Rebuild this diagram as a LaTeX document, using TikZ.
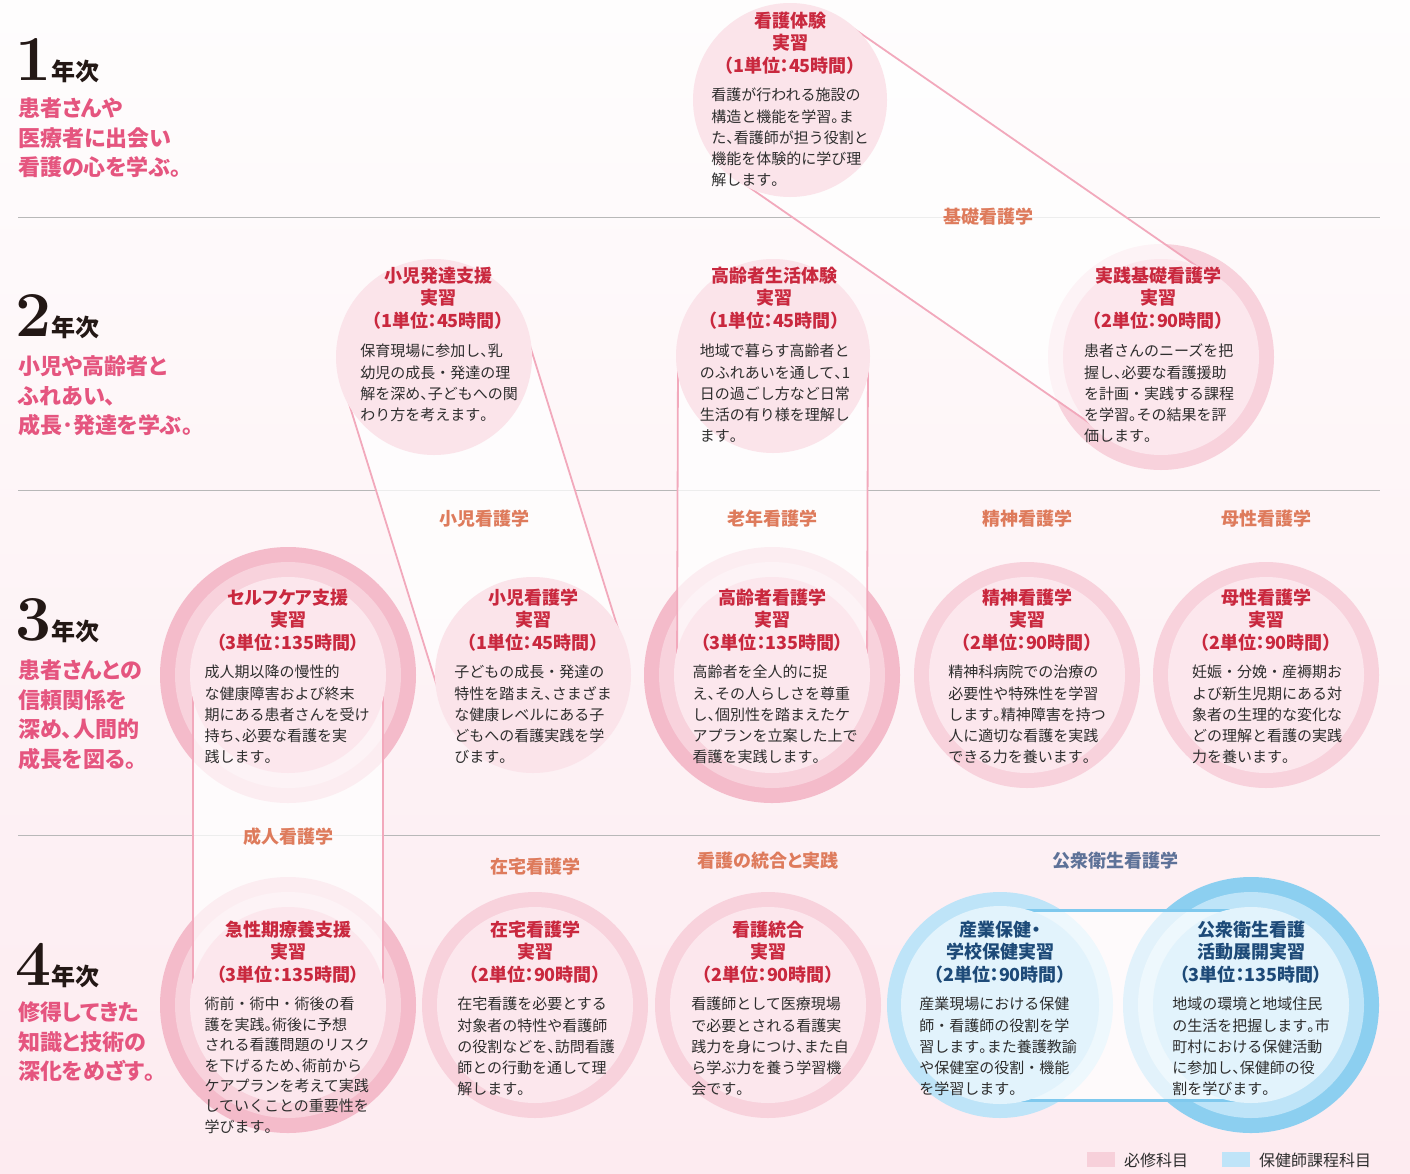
\documentclass[tikz,border=0pt]{standalone}
\usepackage{fontspec}
\usetikzlibrary{calc}
\newfontfamily\jp{Noto Sans CJK JP}
\newfontfamily\jpt[RawFeature=+palt]{Noto Sans CJK JP}
\definecolor{bgtop}{HTML}{FEFDFD}
\definecolor{bgmid}{HTML}{FDF3F5}
\definecolor{bgbot}{HTML}{FDEBF0}
\definecolor{sepgray}{HTML}{B8B8B8}
\definecolor{pkA}{HTML}{F4BBCA}
\definecolor{pkB}{HTML}{F8D2DC}
\definecolor{pkC}{HTML}{FCE7ED}
\definecolor{pkS}{HTML}{FBE4EA}
\definecolor{blA}{HTML}{8CCFF0}
\definecolor{blB}{HTML}{BEE4F8}
\definecolor{blC}{HTML}{E2F3FC}
\definecolor{bandpink}{HTML}{F2A9BC}
\definecolor{bandblue}{HTML}{7FC9EE}
\definecolor{ttlred}{HTML}{C9283E}
\definecolor{ttlblue}{HTML}{1D4A78}
\definecolor{bodytxt}{HTML}{2E2E2E}
\definecolor{subjor}{HTML}{DE7B5C}
\definecolor{subjbl}{HTML}{5E7298}
\definecolor{headpink}{HTML}{E5557F}
\definecolor{yrblack}{HTML}{231815}
\definecolor{legpink}{HTML}{F7D0DA}
\definecolor{legblue}{HTML}{BFE4F8}
\pgfdeclarelayer{back}
\pgfdeclarelayer{bandl}
\pgfsetlayers{back,bandl,main}
\begingroup
\catcode`、=\active
\catcode`。=\active
\gdef、{\makebox[.5em][l]{\char"3001}}
\gdef。{\makebox[.5em][l]{\char"3002}}
\endgroup
\catcode`、=\active
\catcode`。=\active
\newcommand\disc[4]{\node[circle,inner sep=0pt,outer sep=0pt,minimum size=#3pt,fill=#4] (#1) at (#2) {};}
\newcommand\band[3]{%
  \fill[white,fill opacity=.75] ($(#1)!95pt!90:(#2)$) -- ($(#2)!95pt!-90:(#1)$) -- ($(#2)!95pt!90:(#1)$) -- ($(#1)!95pt!-90:(#2)$) -- cycle;
  \draw[#3] ($(#1)!95pt!90:(#2)$) -- ($(#2)!95pt!-90:(#1)$);
  \draw[#3] ($(#1)!95pt!-90:(#2)$) -- ($(#2)!95pt!90:(#1)$);}
\tikzset{
  ttl/.style={anchor=north,inner sep=0pt,align=center,text=ttlred,font=\jpt\bfseries\fontsize{18}{22.5}\selectfont},
  ttlb/.style={ttl,text=ttlblue},
  bod/.style={anchor=north,inner sep=0pt,align=left,text=bodytxt,font=\jp\fontsize{15}{21.2}\selectfont},
  subj/.style={inner sep=0pt,text=subjor,font=\jpt\bfseries\fontsize{18}{18}\selectfont},
  head/.style={anchor=north west,inner sep=0pt,align=left,text=headpink,font=\jpt\bfseries\fontsize{22}{29.7}\selectfont},
  yr/.style={anchor=base west,inner sep=0pt,text=yrblack,font=\bfseries\fontsize{64}{64}\selectfont},
  nen/.style={anchor=base west,inner sep=0pt,text=yrblack,font=\jp\bfseries\fontsize{24}{24}\selectfont},
  pband/.style={draw=bandpink,line width=1.8pt},
  bband/.style={draw=bandblue,line width=3pt},
  sepline/.style={draw=sepgray,line width=1pt},
  legbox/.style={inner sep=0pt,minimum width=28pt,minimum height=15pt},
  legtxt/.style={anchor=west,inner sep=0pt,text=bodytxt,font=\jp\fontsize{16}{16}\selectfont},
}
\begin{document}
\begin{tikzpicture}[x=1pt,y=-1pt]
\useasboundingbox (0,0) rectangle (1410,1173);
\begin{pgfonlayer}{back}
  \shade[top color=bgtop,middle color=bgmid,bottom color=bgbot] (0,0) rectangle (1410,1173);
  \draw[sepline] (18,217) -- (1380,217);
  \draw[sepline] (18,490) -- (1380,490);
  \draw[sepline] (18,835) -- (1380,835);
  % outer rings
  \disc{c4o}{1161,357}{226}{pkB}
  \disc{c5o}{288,675}{256}{pkA}
  \disc{c5m}{288,675}{226}{pkB}
  \disc{c7o}{772,675}{256}{pkA}
  \disc{c7m}{772,675}{226}{pkB}
  \disc{c8o}{1027,675}{226}{pkB}
  \disc{c9o}{1266,675}{226}{pkB}
  \disc{c10o}{288,1005}{256}{pkA}
  \disc{c10m}{288,1005}{226}{pkB}
  \disc{c11o}{535,1005}{226}{pkB}
  \disc{c12o}{768,1005}{226}{pkB}
  \disc{c13o}{1000,1005}{226}{blB}
  \disc{c14o}{1251,1005}{256}{blA}
  \disc{c14m}{1251,1005}{226}{blB}
\end{pgfonlayer}
% inner discs
\disc{c1}{790,100}{194}{pkS}
\disc{c2}{434,357}{196}{pkS}
\disc{c3}{773,356}{194}{pkS}
\disc{c4}{1161,357}{196}{pkC}
\disc{c5}{288,675}{196}{pkC}
\disc{c6}{533,675}{196}{pkS}
\disc{c7}{772,675}{196}{pkC}
\disc{c8}{1027,675}{196}{pkC}
\disc{c9}{1266,675}{196}{pkC}
\disc{c10}{288,1005}{196}{pkC}
\disc{c11}{535,1005}{196}{pkC}
\disc{c12}{768,1005}{196}{pkC}
\disc{c13}{1000,1005}{198}{blC}
\disc{c14}{1251,1005}{196}{blC}
\begin{pgfonlayer}{bandl}
  \band{c1}{c4}{pband}
  \band{c2}{c6}{pband}
  \band{c3}{c7}{pband}
  \band{c5}{c10}{pband}
  \band{c13}{c14}{bband}
\end{pgfonlayer}
% year headings
\node[yr] (n1) at (15,80) {1};
\node[nen] (y1) at (51,80) {年次};
\node[head] (h1) at (18,97.5) {患者さんや\\医療者に出会い\\看護の心を学ぶ。};
\node[yr] (n2) at (15,336) {2};
\node[nen] (y2) at (51,336) {年次};
\node[head] (h2) at (18,355.5) {小児や高齢者と\\ふれあい、\\成長･発達を学ぶ。};
\node[yr] (n3) at (15,640) {3};
\node[nen] (y3) at (51,640) {年次};
\node[head] (h3) at (18,659.5) {患者さんとの\\信頼関係を\\深め、人間的\\成長を図る。};
\node[yr] (n4) at (15,985) {4};
\node[nen] (y4) at (51,985) {年次};
\node[head] (h4) at (18,1001.5) {修得してきた\\知識と技術の\\深化をめざす。};
% subject labels
\node[subj] (s1) at (988,217) {基礎看護学};
\node[subj] (s2) at (484,519) {小児看護学};
\node[subj] (s3) at (772,519) {老年看護学};
\node[subj] (s4) at (1027,519) {精神看護学};
\node[subj] (s5) at (1266,519) {母性看護学};
\node[subj] (s6) at (288,837) {成人看護学};
\node[subj] (s7) at (535,867) {在宅看護学};
\node[subj] (s8) at (768,861) {看護の統合と実践};
\node[subj,text=subjbl] (s9) at (1115,861) {公衆衛生看護学};
% circle texts
\node[ttl] (t1) at (790,11.5) {看護体験\\実習\\（1単位：45時間）};
\node[bod] (b1) at (790,88) {看護が行われる施設の\\構造と機能を学習。ま\\た、看護師が担う役割と\\機能を体験的に学び理\\解します。};
\node[ttl] (t2) at (438,266.5) {小児発達支援\\実習\\（1単位：45時間）};
\node[bod] (b2) at (439,344) {保育現場に参加し、乳\\幼児の成長・発達の理\\解を深め、子どもへの関\\わり方を考えます。};
\node[ttl] (t3) at (774,266.5) {高齢者生活体験\\実習\\（1単位：45時間）};
\node[bod] (b3) at (775,344) {地域で暮らす高齢者と\\のふれあいを通して、1\\日の過ごし方など日常\\生活の有り様を理解し\\ます。};
\node[ttl] (t4) at (1158,266.5) {実践基礎看護学\\実習\\（2単位：90時間）};
\node[bod] (b4) at (1159,344) {患者さんのニーズを把\\握し、必要な看護援助\\を計画・実践する課程\\を学習。その結果を評\\価します。};
\node[ttl] (t5) at (288,588.5) {セルフケア支援\\実習\\（3単位：135時間）};
\node[bod] (b5) at (287,665) {成人期以降の慢性的\\な健康障害および終末\\期にある患者さんを受け\\持ち、必要な看護を実\\践します。};
\node[ttl] (t6) at (533,588.5) {小児看護学\\実習\\（1単位：45時間）};
\node[bod] (b6) at (533,665) {子どもの成長・発達の\\特性を踏まえ、さまざま\\な健康レベルにある子\\どもへの看護実践を学\\びます。};
\node[ttl] (t7) at (772,588.5) {高齢者看護学\\実習\\（3単位：135時間）};
\node[bod] (b7) at (775,665) {高齢者を全人的に捉\\え、その人らしさを尊重\\し、個別性を踏まえたケ\\アプランを立案した上で\\看護を実践します。};
\node[ttl] (t8) at (1027,588.5) {精神看護学\\実習\\（2単位：90時間）};
\node[bod] (b8) at (1027,665) {精神科病院での治療の\\必要性や特殊性を学習\\します。精神障害を持つ\\人に適切な看護を実践\\できる力を養います。};
\node[ttl] (t9) at (1266,588.5) {母性看護学\\実習\\（2単位：90時間）};
\node[bod] (b9) at (1267,665) {妊娠・分娩・産褥期お\\よび新生児期にある対\\象者の生理的な変化な\\どの理解と看護の実践\\力を養います。};
\node[ttl] (t10) at (288,920.5) {急性期療養支援\\実習\\（3単位：135時間）};
\node[bod,font=\jp\fontsize{15}{20.4}\selectfont] (b10) at (287,997) {術前・術中・術後の看\\護を実践。術後に予想\\される看護問題のリスク\\を下げるため、術前から\\ケアプランを考えて実践\\していくことの重要性を\\学びます。};
\node[ttl] (t11) at (535,920.5) {在宅看護学\\実習\\（2単位：90時間）};
\node[bod] (b11) at (536,997) {在宅看護を必要とする\\対象者の特性や看護師\\の役割などを、訪問看護\\師との行動を通して理\\解します。};
\node[ttl] (t12) at (768,920.5) {看護統合\\実習\\（2単位：90時間）};
\node[bod] (b12) at (770,997) {看護師として医療現場\\で必要とされる看護実\\践力を身につけ、また自\\ら学ぶ力を養う学習機\\会です。};
\node[ttlb] (t13) at (1000,920.5) {産業保健・\\学校保健実習\\（2単位：90時間）};
\node[bod] (b13) at (998,997) {産業現場における保健\\師・看護師の役割を学\\習します。また養護教諭\\や保健室の役割・機能\\を学習します。};
\node[ttlb] (t14) at (1251,920.5) {公衆衛生看護\\活動展開実習\\（3単位：135時間）};
\node[bod] (b14) at (1251,997) {地域の環境と地域住民\\の生活を把握します。市\\町村における保健活動\\に参加し、保健師の役\\割を学びます。};
% legend
\node[legbox,fill=legpink] (lg1) at (1101,1159.5) {};
\node[legtxt] (lt1) at (1124,1160) {必修科目};
\node[legbox,fill=legblue] (lg2) at (1236,1159.5) {};
\node[legtxt] (lt2) at (1259,1160) {保健師課程科目};
\end{tikzpicture}
\end{document}
